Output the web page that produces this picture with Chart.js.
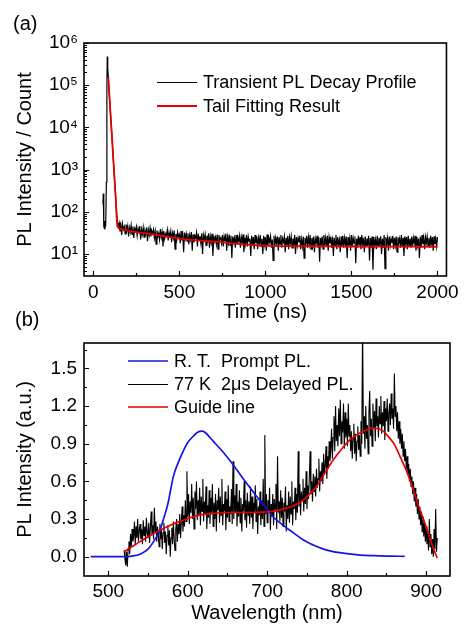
<!DOCTYPE html>
<html><head><meta charset="utf-8">
<script src="https://cdn.jsdelivr.net/npm/chart.js@4.4.0/dist/chart.umd.min.js"></script>
<style>
html,body{margin:0;padding:0;background:#fff;overflow:hidden;width:464px;height:624px;}
#wrapA{position:absolute;left:0;top:0;width:464px;height:330px;}
#wrapB{position:absolute;left:0;top:290px;width:464px;height:344px;}
canvas{display:block;}
</style></head><body>
<div id="wrapA"><canvas id="cA" width="464" height="330"></canvas></div>
<div id="wrapB"><canvas id="cB" width="464" height="344"></canvas></div>
<script>
// ---------- Panel (a): transient PL decay ----------
const decayPeakTimes  = [56,58,60,62,65,68,72,76,79,81,84,87,93,100,110,120,130,136,140,145];
const decayPeakCounts = [150,270,120,45,40,60,45,500,80000,480000,250000,160000,60000,21000,4700,1000,220,90,55,47];
const decayTailStart = 150, decayTailStep = 5;   // time bins (ns)
const decayTailCounts = [
 55,34,48,28,52,38,44,30,50,36,46,26,42,33,48,29,45,24,40,35,
 44,27,40,31,46,22,38,29,42,25,36,30,43,20,37,28,41,26,35,31,
 38,24,34,17,36,26,31,22,39,25,33,15,35,23,30,27,37,21,32,24,
 34,19,31,24,36,13,30,22,33,26,29,18,35,21,28,11,32,23,30,20,
 31,17,28,22,33,12,29,19,27,24,32,15,30,21,26,18,31,10,28,22,
 29,16,27,21,31,14,26,19,30,9,27,20,25,17,29,13,28,22,24,18,
 28,15,26,20,30,12,25,18,29,16,27,8,26,19,24,14,28,17,25,20,
 27,14,25,19,29,11,24,17,28,15,26,20,23,9,27,16,25,13,28,18,
 26,13,24,18,28,15,23,10,27,17,25,12,29,16,24,19,26,14,22,7,
 27,15,24,18,26,12,25,17,28,14,23,19,26,11,24,16,27,13,25,18,
 26,14,23,17,28,10,25,16,24,19,27,13,22,15,26,8,24,18,27,14,
 25,17,28,13,24,16,26,11,23,18,27,14,25,6.5,24,17,26,13,28,16,
 24,15,27,12,25,18,23,14,26,9,24,16,28,13,25,17,22,11,26,15,
 27,14,24,17,26,8,25,16,23,12,28,15,24,18,26,6,23,14,27,16,
 25,13,28,17,24,11,26,15,23,18,27,7,24,14,26,4.2,25,16,22,13,
 27,15,24,18,26,10,23,14,28,4.5,25,17,24,12,26,16,23,18,27,13,
 24,16,26,11,25,18,23,14,28,15,24,9,26,17,25,13,27,16,23,14,
 26,15,24,18,27,12,25,16,23,8,26,14,28,17,24,13,25,18,26,15,
 24,14,27,16,25,12,26,17,23,15,25
];
const fitTimes  = [87,100,110,120,130,140,160,200,250,330,400,500,600,715,850,985,1200,1500,2000];
const fitCounts = [155000,21000,4700,1000,220,45,39,36,33,30,27,23,21,19.5,17,15.8,15.2,15,14.8];
const aXTicks = [0,500,1000,1500,2000];
const aXTickLabels = ['0','500','1000','1500','2000'];
const aXMinor = [250,750,1250,1750];
const aYTicks = [1e1,1e2,1e3,1e4,1e5,1e6];
const aYTickLabels = ['10\u00B9','10\u00B2','10\u00B3','10\u2074','10\u2075','10\u2076'];

// ---------- Panel (b): PL spectra ----------
const blueWl  = [478,500,520,530,540,550,560,565,570,575,582,590,595,600,607,612,618,622,628,635,645,655,662,670,679,688,696,707,720,733,745,758,770,783,800,817,835,855,873];
const blueVal = [0,0,0,0.005,0.02,0.06,0.15,0.21,0.31,0.42,0.64,0.78,0.85,0.91,0.96,0.99,1.0,0.99,0.95,0.9,0.83,0.75,0.69,0.62,0.545,0.47,0.41,0.32,0.25,0.19,0.135,0.093,0.062,0.04,0.024,0.013,0.008,0.004,0.003];
const delayedStart = 520, delayedStep = 1;   // nm
const delayedVal = [
 0.05,-0.02,-0.07,0.04,-0.08,0.06,0.12,0.02,0.18,0.08,0.22,0.12,0.16,0.28,0.10,0.24,0.15,0.30,0.12,0.21,
 0.26,0.14,0.22,0.10,0.29,0.17,0.24,0.12,0.31,0.19,0.15,0.27,0.11,0.23,0.36,0.18,0.25,0.14,0.39,0.20,
 0.28,0.12,0.24,0.17,0.08,0.26,0.14,0.22,0.06,0.19,0.27,0.11,0.20,0.02,0.17,0.25,0.09,0.21,0.00,0.15,
 0.23,0.10,0.28,0.14,0.05,0.22,0.30,0.12,0.26,0.18,0.34,0.15,0.28,0.40,0.20,0.33,0.24,0.45,0.28,0.68,
 0.32,0.50,0.26,0.44,0.35,0.58,0.30,0.47,0.22,0.52,0.38,0.60,0.29,0.45,0.33,0.55,0.25,0.48,0.36,0.62,
 0.28,0.44,0.34,0.56,0.22,0.41,0.31,0.53,0.26,0.47,0.35,0.58,0.24,0.43,0.30,0.50,0.20,0.45,0.37,0.55,
 0.27,0.48,0.33,0.62,0.25,0.42,0.36,0.52,0.21,0.46,0.31,0.57,0.28,0.40,0.34,0.54,0.26,0.76,0.30,0.49,
 0.35,0.58,0.24,0.44,0.32,0.53,0.27,0.47,0.20,0.42,0.36,0.60,0.29,0.45,0.23,0.51,0.33,0.44,0.26,0.56,
 0.31,0.48,0.22,0.43,0.35,0.57,0.28,0.46,0.18,0.40,0.33,0.52,0.25,0.45,0.30,0.62,0.24,0.97,0.34,0.50,
 0.27,0.45,0.36,0.55,0.21,0.42,0.32,0.50,0.25,0.46,0.38,0.58,0.22,0.80,0.35,0.44,0.28,0.53,0.31,0.47,
 0.24,0.43,0.36,0.56,0.20,0.41,0.30,0.52,0.27,0.48,0.34,0.60,0.25,0.44,0.38,0.55,0.29,0.50,0.35,0.84,
 0.40,0.58,0.33,0.52,0.45,0.62,0.36,0.55,0.42,0.68,0.38,0.57,0.46,0.63,0.84,0.50,0.60,0.44,0.66,0.52,
 0.64,0.48,0.70,0.55,0.62,0.78,0.52,0.68,0.60,0.75,0.58,0.82,0.66,0.72,0.88,0.62,0.80,0.70,0.92,0.76,
 0.85,1.02,0.78,0.95,1.12,0.84,1.20,0.92,1.05,0.88,1.18,0.96,1.25,0.90,1.08,0.99,1.22,0.86,1.15,0.95,
 1.10,0.88,1.22,0.96,1.05,0.84,1.00,0.78,0.94,1.06,0.82,0.98,0.76,0.92,1.04,0.85,0.97,0.80,1.08,0.90,
 1.85,0.98,1.12,0.86,1.20,0.94,1.05,0.82,1.15,1.32,0.96,1.10,0.88,1.22,1.02,1.16,0.92,1.26,1.04,1.12,
 0.95,1.20,1.06,1.28,0.98,1.15,1.04,1.24,0.93,1.18,1.08,1.26,1.00,1.14,1.22,1.05,1.30,1.10,1.18,1.02,
 1.46,1.12,1.20,1.00,1.15,0.94,1.08,0.90,1.02,0.86,0.98,0.80,0.92,0.76,0.86,0.70,0.80,0.66,0.74,0.60,
 0.70,0.56,0.64,0.50,0.60,0.44,0.55,0.40,0.50,0.34,0.46,0.30,0.40,0.25,0.36,0.20,0.32,0.16,0.28,0.12,
 0.24,0.10,0.20,0.05,0.30,0.08,0.18,0.02,0.14,0.00,0.22,0.06,0.38,0.04,0.15
];
const redWl  = [520,530,540,552,565,578,590,603,616,630,645,660,680,695,705,716,728,741,752,762,772,783,794,804,815,825,833,840,846,852,859,865,871,878,884,890,897,904,910,914];
const redVal = [0.04,0.08,0.12,0.165,0.21,0.25,0.28,0.31,0.333,0.343,0.35,0.352,0.352,0.355,0.36,0.373,0.395,0.43,0.49,0.56,0.66,0.77,0.86,0.93,0.98,1.01,1.025,1.02,1.0,0.96,0.905,0.83,0.745,0.64,0.53,0.41,0.29,0.16,0.05,-0.01];
const bXTicks = [500,600,700,800,900];
const bXTickLabels = ['500','600','700','800','900'];
const bXMinor = [550,650,750,850];
const bYTicks = [0,0.3,0.6,0.9,1.2,1.5];
const bYTickLabels = ['0.0','0.3','0.6','0.9','1.2','1.5'];
const bYMinor = [0.15,0.45,0.75,1.05,1.35,1.65];

// ---------- helpers ----------
const FONT = "'Liberation Sans', Arial, Helvetica, sans-serif";
Chart.defaults.font.family = FONT;
Chart.defaults.color = '#000';

function pts(xs, ys){ return xs.map((x,i)=>({x:x, y:ys[i]})); }
function gridPts(start, step, ys){ return ys.map((y,i)=>({x:start + i*step, y:y})); }

const decorPlugin = {
  id:'decor',
  afterDatasetsDraw(chart, args, o){
    const ctx = chart.ctx;
    const {left,right,top,bottom} = chart.chartArea;
    const xs = chart.scales.x, ys = chart.scales.y;
    ctx.save();
    ctx.strokeStyle = '#000';
    ctx.lineWidth = 1.2;
    ctx.beginPath();
    o.xMajor.forEach(v=>{ const p = Math.round(xs.getPixelForValue(v))+0.5; ctx.moveTo(p,bottom); ctx.lineTo(p,bottom-5); });
    o.xMinor.forEach(v=>{ const p = Math.round(xs.getPixelForValue(v))+0.5; ctx.moveTo(p,bottom); ctx.lineTo(p,bottom-3); });
    o.yMajor.forEach(v=>{ const p = Math.round(ys.getPixelForValue(v))+0.5; ctx.moveTo(left,p); ctx.lineTo(left+5,p); });
    o.yMinor.forEach(v=>{ const p = Math.round(ys.getPixelForValue(v))+0.5; if (p>top+1 && p<bottom-1){ ctx.moveTo(left,p); ctx.lineTo(left+3,p);} });
    ctx.stroke();
    ctx.lineWidth = 1.6;
    ctx.strokeRect(left, top, right-left, bottom-top);
    ctx.font = '18px ' + FONT;
    ctx.textBaseline = 'middle';
    ctx.textAlign = 'left';
    o.legend.rows.forEach((r,i)=>{
      const ds = chart.data.datasets[r];
      const y = o.legend.y[i] + (ds.borderWidth < 1.4 ? 0.5 : 0);
      ctx.beginPath();
      ctx.strokeStyle = ds.borderColor;
      ctx.lineWidth = ds.borderWidth;
      ctx.moveTo(o.legend.x0, y);
      ctx.lineTo(o.legend.x1, y);
      ctx.stroke();
      ctx.fillStyle = '#000';
      ctx.fillText(ds.label, o.legend.tx, o.legend.y[i]+1);
    });
    ctx.font = '20px ' + FONT;
    ctx.textBaseline = 'alphabetic';
    ctx.fillStyle = '#000';
    ctx.fillText(o.label, o.labelX, o.labelY);
    ctx.restore();
  }
};

function axisX(min, max, ticks, labels, title, height, tickPad, titlePad){
  return {
    type:'linear', min:min, max:max,
    afterBuildTicks: s => { s.ticks = ticks.map(v=>({value:v})); },
    afterFit: s => { s.height = height; },
    ticks:{ autoSkip:false, maxRotation:0, padding:tickPad, font:{size:19}, callback:(v,i)=>labels[i] },
    grid:{ display:false, drawTicks:false },
    border:{ display:false },
    title:{ display:true, text:title, font:{size:20}, padding:{top:0,bottom:titlePad} }
  };
}

// ---------- Chart (a) ----------
new Chart(document.getElementById('cA'), {
  type:'line',
  data:{ datasets:[
    { label:'Transient PL Decay Profile',
      data: pts(decayPeakTimes, decayPeakCounts).concat(gridPts(decayTailStart, decayTailStep, decayTailCounts)),
      borderColor:'#000000', borderWidth:1.2, pointRadius:0, tension:0, order:2 },
    { label:'Tail Fitting Result', data: pts(fitTimes, fitCounts),
      borderColor:'#e60000', borderWidth:1.8, pointRadius:0, cubicInterpolationMode:'monotone', order:1 }
  ]},
  options:{
    responsive:false, animation:false, devicePixelRatio:1,
    layout:{ padding:{ top:43, right:15, left:0, bottom:0 } },
    plugins:{ legend:{display:false}, tooltip:{enabled:false},
      decor:{ xMajor:aXTicks, xMinor:aXMinor, yMajor:aYTicks,
        yMinor:[4,5,6,7,8,9,20,30,40,50,60,70,80,90,200,300,400,500,600,700,800,900,2e3,3e3,4e3,5e3,6e3,7e3,8e3,9e3,2e4,3e4,4e4,5e4,6e4,7e4,8e4,9e4,2e5,3e5,4e5,5e5,6e5,7e5,8e5,9e5],
        legend:{ x0:157, x1:197, tx:203, y:[82,106], rows:[0,1] },
        label:'(a)', labelX:13, labelY:30 } },
    scales:{
      x: axisX(-54, 2052, aXTicks, aXTickLabels, 'Time (ns)', 54, 5, 6),
      y: { type:'logarithmic', min:3, max:1e6,
        afterBuildTicks: s => { s.ticks = aYTicks.map(v=>({value:v})); },
        afterFit: s => { s.width = 84; },
        ticks:{ autoSkip:false, padding:6, font:{size:19}, callback:(v,i)=>aYTickLabels[i] },
        grid:{ display:false, drawTicks:false }, border:{display:false},
        title:{ display:true, text:'PL Intensity / Count', font:{size:20}, padding:{top:13,bottom:0} } }
    }
  },
  plugins:[decorPlugin]
});

// ---------- Chart (b) ----------
new Chart(document.getElementById('cB'), {
  type:'line',
  data:{ datasets:[
    { label:'R. T.  Prompt PL.', data: pts(blueWl, blueVal),
      borderColor:'#1414e6', borderWidth:1.7, pointRadius:0, cubicInterpolationMode:'monotone', order:1 },
    { label:'77 K  2\u03BCs Delayed PL.', data: gridPts(delayedStart, delayedStep, delayedVal),
      borderColor:'#000000', borderWidth:1.1, pointRadius:0, tension:0, order:2 },
    { label:'Guide line', data: pts(redWl, redVal),
      borderColor:'#e60000', borderWidth:1.7, pointRadius:0, cubicInterpolationMode:'monotone', order:0 }
  ]},
  options:{
    responsive:false, animation:false, devicePixelRatio:1,
    layout:{ padding:{ top:53, right:14, left:0, bottom:0 } },
    plugins:{ legend:{display:false}, tooltip:{enabled:false},
      decor:{ xMajor:bXTicks, xMinor:bXMinor, yMajor:bYTicks, yMinor:bYMinor,
        legend:{ x0:128, x1:168, tx:174, y:[71,94,117], rows:[0,1,2] },
        label:'(b)', labelX:15, labelY:36 } },
    scales:{
      x: axisX(469.5, 930, bXTicks, bXTickLabels, 'Wavelength (nm)', 58, 4, 8.5),
      y: { type:'linear', min:-0.154, max:1.703,
        afterBuildTicks: s => { s.ticks = bYTicks.map(v=>({value:v})); },
        afterFit: s => { s.width = 84; },
        ticks:{ autoSkip:false, padding:7, font:{size:19}, callback:(v,i)=>bYTickLabels[i] },
        grid:{ display:false, drawTicks:false }, border:{display:false},
        title:{ display:true, text:'PL Intensity (a.u.)', font:{size:20}, padding:{top:13,bottom:0} } }
    }
  },
  plugins:[decorPlugin]
});
</script>
</body></html>
